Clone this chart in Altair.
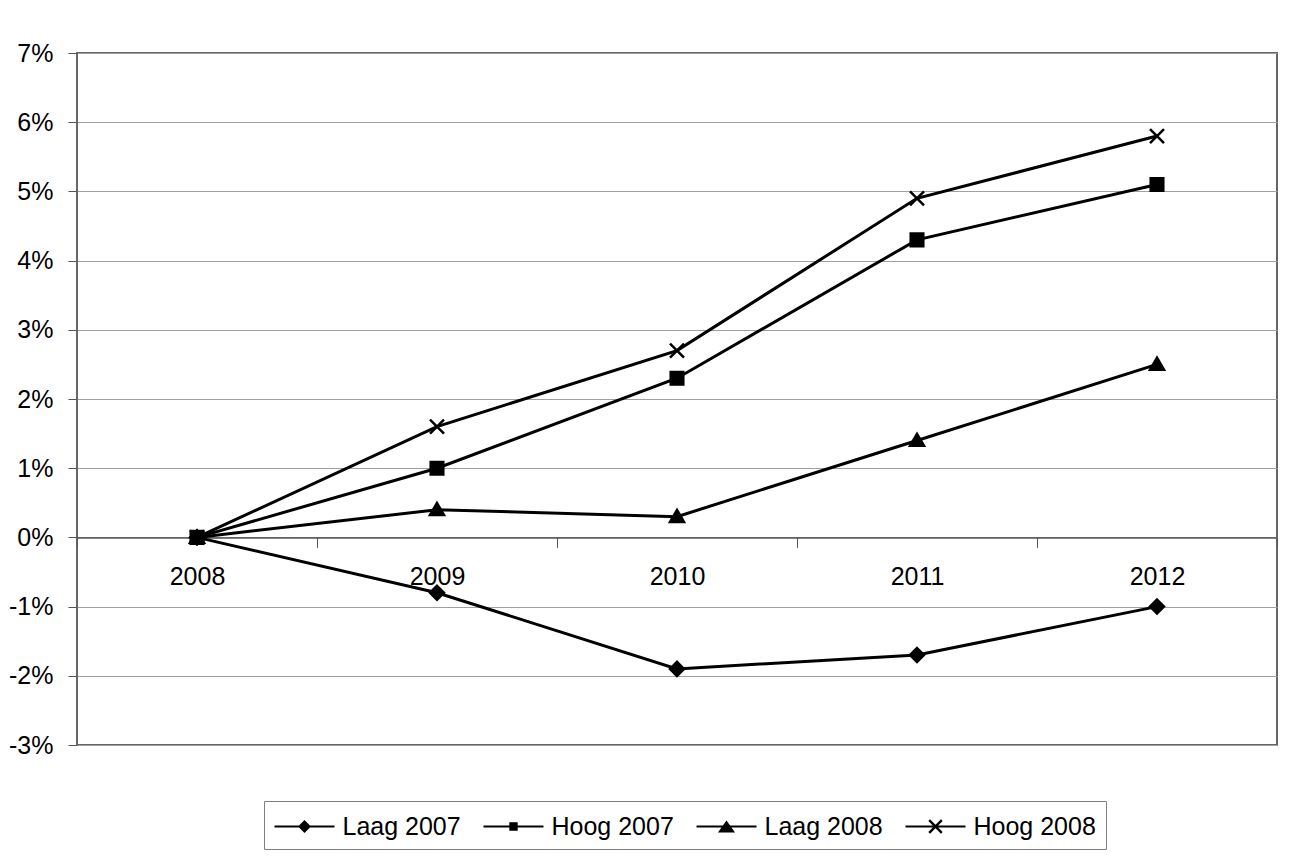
import altair as alt
import pandas as pd

# ---- data ----
years = ["2008", "2009", "2010", "2011", "2012"]
series = ["Laag 2007", "Hoog 2007", "Laag 2008", "Hoog 2008"]
laag_2007 = [0.0, -0.8, -1.9, -1.7, -1.0]
hoog_2007 = [0.0, 1.0, 2.3, 4.3, 5.1]
laag_2008 = [0.0, 0.4, 0.3, 1.4, 2.5]
hoog_2008 = [0.0, 1.6, 2.7, 4.9, 5.8]
y_ticks = list(range(-3, 8))

rows = []
for name, vals in zip(series, [laag_2007, hoog_2007, laag_2008, hoog_2008]):
    for yr, v in zip(years, vals):
        rows.append({"year": yr, "series": name, "value": v})
df = pd.DataFrame(rows)

FONT = "Liberation Sans"
W, H = 1200, 692
Y_MIN, Y_MAX = -3, 7
zero_from_bottom = H * (0 - Y_MIN) / (Y_MAX - Y_MIN)

# marker shapes in the plot (unit = sqrt(size)/2 px)
marker_paths = [
    "M0,-1L1,0L0,1L-1,0Z",                 # diamond
    "M-0.9,-0.9H0.9V0.9H-0.9Z",            # square
    "M0,-0.95L1,0.75H-1Z",                 # triangle
    "M-1,-1L1,1M-1,1L1,-1",                # x
]
# legend symbols (all filled): a thin bar as the line plus the marker
LINE = "M-2,-0.067H2V0.067H-2Z"
X_SHAPE = ("M-0.363,-0.477L0.477,0.363L0.363,0.477L-0.477,-0.363Z"
           "M-0.477,0.363L0.363,-0.477L0.477,-0.363L-0.363,0.477Z")
legend_paths = [
    LINE + "M0,-0.43L0.43,0L0,0.43L-0.43,0Z",
    LINE + "M-0.28,-0.28H0.28V0.28H-0.28Z",
    LINE + "M0,-0.4L0.57,0.4H-0.57Z",
    LINE + X_SHAPE,
]

x_enc = alt.X(
    "year:O",
    sort=years,
    scale=alt.Scale(type="band", paddingInner=0, paddingOuter=0),
    axis=alt.Axis(
        title=None,
        labelAngle=0,
        offset=-zero_from_bottom,
        tickBand="extent",
        tickSize=10,
        tickColor="#555555",
        domainColor="#555555",
        domainWidth=1.5,
        labelFontSize=25,
        labelFont=FONT,
        labelColor="black",
        labelPadding=17,
        grid=False,
    ),
)
y_enc = alt.Y(
    "value:Q",
    scale=alt.Scale(domain=[Y_MIN, Y_MAX], nice=False, zero=False),
    axis=alt.Axis(
        title=None,
        values=y_ticks,
        labelExpr="datum.value + '%'",
        grid=True,
        gridColor="#a0a0a0",
        gridWidth=1,
        domain=False,
        tickSize=9,
        tickColor="#555555",
        labelFontSize=25,
        labelFont=FONT,
        labelColor="black",
        labelPadding=15,
    ),
)

base = alt.Chart(df)

lines = base.mark_line(color="black", strokeWidth=3).encode(
    x=x_enc, y=y_enc, detail="series:N"
)

points = base.mark_point(
    filled=True, fill="black", stroke="black", strokeWidth=2.5, size=196, opacity=1
).encode(
    x=x_enc,
    y=y_enc,
    shape=alt.Shape(
        "series:N",
        scale=alt.Scale(domain=series, range=marker_paths),
        legend=None,
    ),
)

legend_layer = base.mark_point(
    filled=True, fill="black", opacity=0, size=900
).encode(
    x=x_enc,
    y=y_enc,
    shape=alt.Shape(
        "series:N",
        scale=alt.Scale(domain=series, range=legend_paths),
        legend=alt.Legend(
            title=None,
            orient="none",
            legendX=187,
            legendY=748,
            direction="horizontal",
            strokeColor="#808080",
            fillColor="white",
            padding=9.5,
            cornerRadius=0,
            labelFontSize=25,
            labelFont=FONT,
            labelColor="black",
            symbolSize=900,
            symbolOffset=15,
            labelOffset=22,
            columnPadding=19,
            symbolFillColor="black",
            symbolOpacity=1,
        ),
    ),
)

chart = (
    alt.layer(lines, points, legend_layer)
    .resolve_scale(shape="independent")
    .properties(
        width=W,
        height=H,
        autosize=alt.AutoSizeParams(type="none"),
        padding={"left": 77, "top": 53, "right": 22, "bottom": 116},
        background="white",
    )
    .configure_view(stroke="#666666", strokeWidth=2)
)

chart.save("out.html", embed_options={"renderer": "svg", "actions": False})
